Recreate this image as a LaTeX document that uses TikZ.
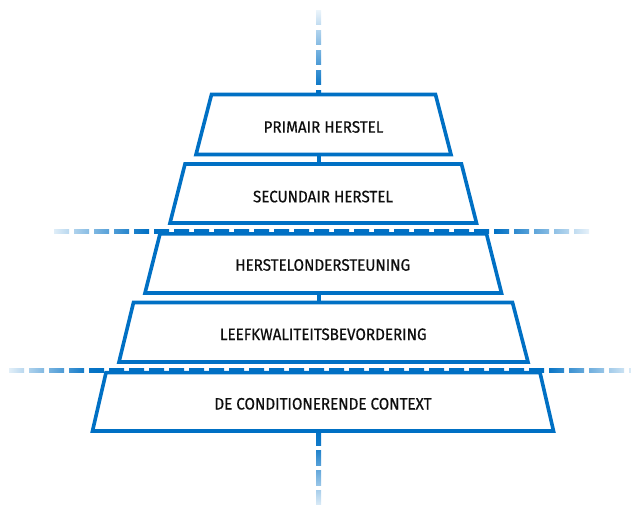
\documentclass[tikz,border=0pt]{standalone}
\usepackage{fontspec}
\setmainfont{Fira Sans}[FakeStretch=0.92, FakeBold=0.6]
\definecolor{ax}{RGB}{0,112,196}
\definecolor{txt}{RGB}{15,15,15}
\newcommand\intens[2]{\pgfmathsetmacro#1{max(0,5+95*min(1,(#2-\pa)/(\pb-\pa),(\pd-#2)/(\pd-\pc)))}}
\tikzset{
  trap/.style={draw=ax, line width=3.6pt, fill=white, line join=miter},
  lbl/.style={anchor=base, text=txt, font=\fontsize{16.5}{18}\selectfont, inner sep=0pt},
  conn/.style={draw=ax, line width=4pt}
}
\begin{document}
\begin{tikzpicture}[x=1pt,y=-1pt]
\useasboundingbox (0,0) rectangle (631,505);
% ---- dashed horizontal line 1
\def\pa{46}\def\pb{145}\def\pc{495}\def\pd{594}
\foreach \k in {0,...,26}{
  \pgfmathsetmacro\xs{54+20*\k}\pgfmathsetmacro\xe{\xs+15}
  \intens\ia\xs \intens\ib\xe
  \shade[left color=ax!\ia!white, right color=ax!\ib!white] (\xs,229) rectangle (\xe,233);
}
% ---- dashed horizontal line 2
\def\pa{3}\def\pb{92}\def\pc{545}\def\pd{640}
\foreach \k in {0,...,31}{
  \pgfmathsetmacro\xs{9+20*\k}\pgfmathsetmacro\xe{\xs+15}
  \intens\ia\xs \intens\ib\xe
  \shade[left color=ax!\ia!white, right color=ax!\ib!white] (\xs,368) rectangle (\xe,372);
}
% ---- vertical top
\def\pa{8}\def\pb{90}\def\pc{2000}\def\pd{2001}
\foreach \k in {0,...,4}{
  \pgfmathsetmacro\ys{11+20*\k}\pgfmathsetmacro\ye{min(\ys+14,96)}
  \intens\ia\ys \intens\ib\ye
  \shade[top color=ax!\ia!white, bottom color=ax!\ib!white] (316,\ys) rectangle (321,\ye);
}
% ---- vertical bottom
\def\pa{-2000}\def\pb{-1999}\def\pc{440}\def\pd{512}
\foreach \k in {0,...,3}{
  \pgfmathsetmacro\ys{430+20*\k}\pgfmathsetmacro\ye{\ys+15}
  \intens\ia\ys \intens\ib\ye
  \shade[top color=ax!\ia!white, bottom color=ax!\ib!white] (316,\ys) rectangle (321,\ye);
}
% ---- trapezoid corners
\coordinate (t1tl) at (211.5,94.5);  \coordinate (t1tr) at (435.5,94.5);
\coordinate (t1br) at (451,154.5);   \coordinate (t1bl) at (196,154.5);
\coordinate (t2tl) at (185,164);     \coordinate (t2tr) at (461.5,164);
\coordinate (t2br) at (476.5,223);   \coordinate (t2bl) at (170,223);
\coordinate (t3tl) at (160,233.8);   \coordinate (t3tr) at (486.5,233.8);
\coordinate (t3br) at (501.5,293);   \coordinate (t3bl) at (145,293);
\coordinate (t4tl) at (133.5,302.5); \coordinate (t4tr) at (512.5,302.5);
\coordinate (t4br) at (528,362);     \coordinate (t4bl) at (119,362);
\coordinate (t5tl) at (106,372.6);   \coordinate (t5tr) at (540,372.6);
\coordinate (t5br) at (553.5,431);   \coordinate (t5bl) at (92.5,431);
% ---- connectors
\coordinate (c1a) at (318.6,154.5); \coordinate (c1b) at (318.6,164);
\coordinate (c2a) at (318.6,293);   \coordinate (c2b) at (318.6,302.5);
\draw[conn] (c1a) -- (c1b);
\draw[conn] (c2a) -- (c2b);
% ---- trapezoids
\draw[trap] (t1tl) -- (t1tr) -- (t1br) -- (t1bl) -- cycle;
\draw[trap] (t2tl) -- (t2tr) -- (t2br) -- (t2bl) -- cycle;
\draw[trap] (t3tl) -- (t3tr) -- (t3br) -- (t3bl) -- cycle;
\draw[trap] (t4tl) -- (t4tr) -- (t4br) -- (t4bl) -- cycle;
\draw[trap] (t5tl) -- (t5tr) -- (t5br) -- (t5bl) -- cycle;
% ---- labels
\node[lbl] (t1) at (323.5,132.7) {PRIMAIR HERSTEL};
\node[lbl] (t2) at (323,202.3) {SECUNDAIR HERSTEL};
\node[lbl] (t3) at (322.7,270.7) {HERSTELONDERSTEUNING};
\node[lbl] (t4) at (323.3,340) {LEEFKWALITEITSBEVORDERING};
\node[lbl] (t5) at (323,409.5) {DE CONDITIONERENDE CONTEXT};
\end{tikzpicture}
\end{document}
